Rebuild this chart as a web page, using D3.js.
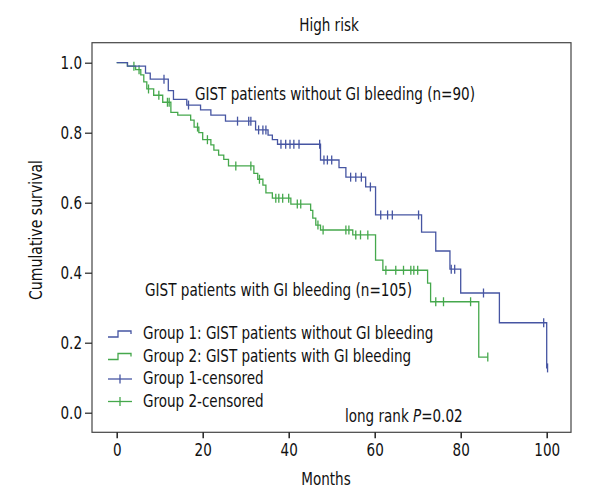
<!DOCTYPE html>
<html>
<head>
<meta charset="utf-8">
<script src="https://cdn.jsdelivr.net/npm/d3@7"></script>
<style>
  html, body { margin: 0; padding: 0; background: #fff; }
  svg { display: block; }
  text { font-family: "Liberation Sans Narrow", "DejaVu Sans Condensed", "Roboto Condensed", sans-serif; fill: #111; }
</style>
</head>
<body>
<div id="chart"></div>
<script>
// ---- data ----
const xTickValues = [0, 20, 40, 60, 80, 100];
const yTickValues = [0.0, 0.2, 0.4, 0.6, 0.8, 1.0];

// Group 1: GIST patients without GI bleeding (n=90)
const g1EventTimes = [2.5, 6.7, 7.8, 12.0, 13.2, 16.3, 19.5, 21.9, 25.3, 32.3, 35.2, 36.2, 37.4, 47.4, 51.7, 53.3, 57.9, 60.2, 70.9, 74.2, 77.5, 80.0, 89.0, 100.0];
const g1Survival   = [0.99, 0.97, 0.953, 0.92, 0.895, 0.879, 0.865, 0.85, 0.833, 0.808, 0.793, 0.78, 0.767, 0.722, 0.70, 0.673, 0.645, 0.565, 0.516, 0.462, 0.41, 0.342, 0.257, 0.128];
const g1Censored   = [11.0, 16.7, 28.1, 30.7, 31.2, 33.0, 34.0, 34.7, 38.2, 39.3, 40.3, 41.2, 42.4, 47.2, 48.2, 49.0, 50.0, 54.4, 55.6, 56.9, 59.0, 61.4, 63.0, 64.1, 70.2, 77.8, 78.6, 85.3, 99.3, 100.2];

// Group 2: GIST patients with GI bleeding (n=105)
const g2EventTimes = [2.5, 4.4, 5.6, 6.3, 7.0, 8.6, 10.7, 12.6, 14.2, 17.2, 18.0, 19.1, 20.0, 21.9, 22.6, 23.7, 24.9, 26.0, 31.9, 32.8, 34.0, 34.7, 36.2, 40.5, 45.1, 45.6, 46.3, 47.4, 54.9, 60.2, 61.9, 72.3, 73.0, 84.2];
const g2Survival   = [0.99, 0.98, 0.965, 0.945, 0.925, 0.907, 0.887, 0.858, 0.85, 0.836, 0.816, 0.80, 0.78, 0.765, 0.75, 0.736, 0.724, 0.705, 0.684, 0.667, 0.65, 0.628, 0.613, 0.596, 0.578, 0.556, 0.536, 0.522, 0.508, 0.436, 0.407, 0.37, 0.317, 0.159];
const g2Censored   = [4.0, 5.2, 7.4, 9.8, 11.8, 12.2, 18.8, 21.1, 27.7, 31.2, 33.2, 37.0, 37.7, 38.6, 40.0, 42.0, 42.8, 46.8, 48.0, 53.3, 54.0, 55.6, 56.7, 58.4, 62.6, 64.9, 66.7, 68.4, 69.1, 70.0, 74.2, 76.0, 82.3, 86.3];

const seriesNames = ["Group 1: GIST patients without GI bleeding", "Group 2: GIST patients with GI bleeding", "Group 1-censored", "Group 2-censored"];
const titleText = "High risk";
const xLabel = "Months";
const yLabel = "Cumulative survival";
const note1 = "GIST patients without GI bleeding (n=90)";
const note2 = "GIST patients with GI bleeding (n=105)";
const logRankParts = [["long rank ", "normal"], ["P", "italic"], ["=0.02", "normal"]];

// ---- drawing ----
const W = 600, H = 500;
const blue = "#4655a2", green = "#45a84c";
const squeeze = 0.835; // reference uses a condensed face
const svg = d3.select("#chart").append("svg").attr("width", W).attr("height", H);

const frame = {left: 92, right: 571, top: 42.7, bottom: 432.3};
const x = d3.scaleLinear().domain([0, 100]).range([116.7, 546.7]);
const y = d3.scaleLinear().domain([0, 1]).range([412.7, 62.7]);

function condense(sel, target) {
  sel.each(function() {
    const len = this.getComputedTextLength();
    const t = target != null ? target : len * squeeze;
    d3.select(this).attr("textLength", t).attr("lengthAdjust", "spacingAndGlyphs");
  });
  return sel;
}

function buildSeries(times, surv, cens) {
  const pts = [{t: 0, s: 1}];
  times.forEach((t, i) => pts.push({t: t, s: surv[i]}));
  const lastT = Math.max(times[times.length - 1], d3.max(cens));
  pts.push({t: lastT, s: surv[surv.length - 1]});
  const survAt = t => {
    let s = 1;
    for (let i = 0; i < times.length; i++) { if (times[i] <= t) s = surv[i]; }
    return s;
  };
  const cpts = cens.map(t => ({t: t, s: survAt(t)}));
  return {pts, cpts};
}

const line = d3.line().x(d => x(d.t)).y(d => y(d.s)).curve(d3.curveStepAfter);

const groups = [
  {data: buildSeries(g2EventTimes, g2Survival, g2Censored), color: green},
  {data: buildSeries(g1EventTimes, g1Survival, g1Censored), color: blue}
];

// frame
svg.append("rect")
  .attr("x", frame.left).attr("y", frame.top)
  .attr("width", frame.right - frame.left).attr("height", frame.bottom - frame.top)
  .attr("fill", "none").attr("stroke", "#444").attr("stroke-width", 1.2);

// axes
const xAxis = svg.append("g").attr("transform", `translate(0,${frame.bottom})`)
  .call(d3.axisBottom(x).tickValues(xTickValues).tickFormat(d3.format("d")).tickSize(6).tickSizeOuter(0).tickPadding(5));
xAxis.select(".domain").remove();
xAxis.selectAll(".tick line").attr("stroke", "#222").attr("stroke-width", 1.5);
xAxis.selectAll(".tick text").attr("font-size", 18).attr("fill", "#111")
  .attr("font-family", "Liberation Sans Narrow, DejaVu Sans Condensed, sans-serif");
condense(xAxis.selectAll(".tick text"));

const yAxis = svg.append("g").attr("transform", `translate(${frame.left},0)`)
  .call(d3.axisLeft(y).tickValues(yTickValues).tickFormat(d3.format(".1f")).tickSize(7).tickSizeOuter(0).tickPadding(3));
yAxis.select(".domain").remove();
yAxis.selectAll(".tick line").attr("stroke", "#222").attr("stroke-width", 1.2);
yAxis.selectAll(".tick text").attr("font-size", 18).attr("fill", "#111")
  .attr("font-family", "Liberation Sans Narrow, DejaVu Sans Condensed, sans-serif");
condense(yAxis.selectAll(".tick text"));

// curves
groups.forEach(g => {
  svg.append("path").datum(g.data.pts)
    .attr("d", line).attr("fill", "none")
    .attr("stroke", g.color).attr("stroke-width", 1.3);
  svg.append("g").selectAll("line").data(g.data.cpts).join("line")
    .attr("x1", d => x(d.t)).attr("x2", d => x(d.t))
    .attr("y1", d => y(d.s) - 4.5).attr("y2", d => y(d.s) + 4.5)
    .attr("stroke", g.color).attr("stroke-width", 1.3);
});

// title and labels
condense(svg.append("text").attr("x", 329).attr("y", 31).attr("text-anchor", "middle")
  .attr("font-size", 18).text(titleText));
condense(svg.append("text").attr("x", 326).attr("y", 485).attr("text-anchor", "middle")
  .attr("font-size", 18).text(xLabel));
condense(svg.append("text").attr("transform", "translate(42,230) rotate(-90)").attr("text-anchor", "middle")
  .attr("font-size", 18).text(yLabel), 140);

// annotations
condense(svg.append("text").attr("x", 195).attr("y", 100).attr("font-size", 18).text(note1), 280);
condense(svg.append("text").attr("x", 145).attr("y", 296).attr("font-size", 18).text(note2), 267);

// legend
const legX = 108, legTextX = 143, legY0 = 339, legDy = 22.5;
const legColors = [blue, green, blue, green];
seriesNames.forEach((name, i) => {
  const cy = legY0 + i * legDy - 5;
  if (i < 2) {
    svg.append("path")
      .attr("d", `M${legX},${cy + 3}H${legX + 10}V${cy - 3}H${legX + 23}V${cy}`)
      .attr("fill", "none").attr("stroke", legColors[i]).attr("stroke-width", 1.3);
  } else {
    svg.append("line").attr("x1", legX).attr("x2", legX + 24).attr("y1", cy).attr("y2", cy)
      .attr("stroke", legColors[i]).attr("stroke-width", 1.3);
    svg.append("line").attr("x1", legX + 12).attr("x2", legX + 12).attr("y1", cy - 4.5).attr("y2", cy + 4.5)
      .attr("stroke", legColors[i]).attr("stroke-width", 1.3);
  }
  condense(svg.append("text").attr("x", legTextX).attr("y", legY0 + i * legDy)
    .attr("font-size", 18).text(name));
});

// log rank: one text with tspans, condensed via a horizontal scale
const lr = svg.append("g").attr("transform", `translate(345,422) scale(${squeeze},1)`)
  .append("text").attr("x", 0).attr("y", 0).attr("font-size", 18);
logRankParts.forEach(([str, style]) => {
  lr.append("tspan").attr("font-style", style).text(str);
});
</script>
</body>
</html>
